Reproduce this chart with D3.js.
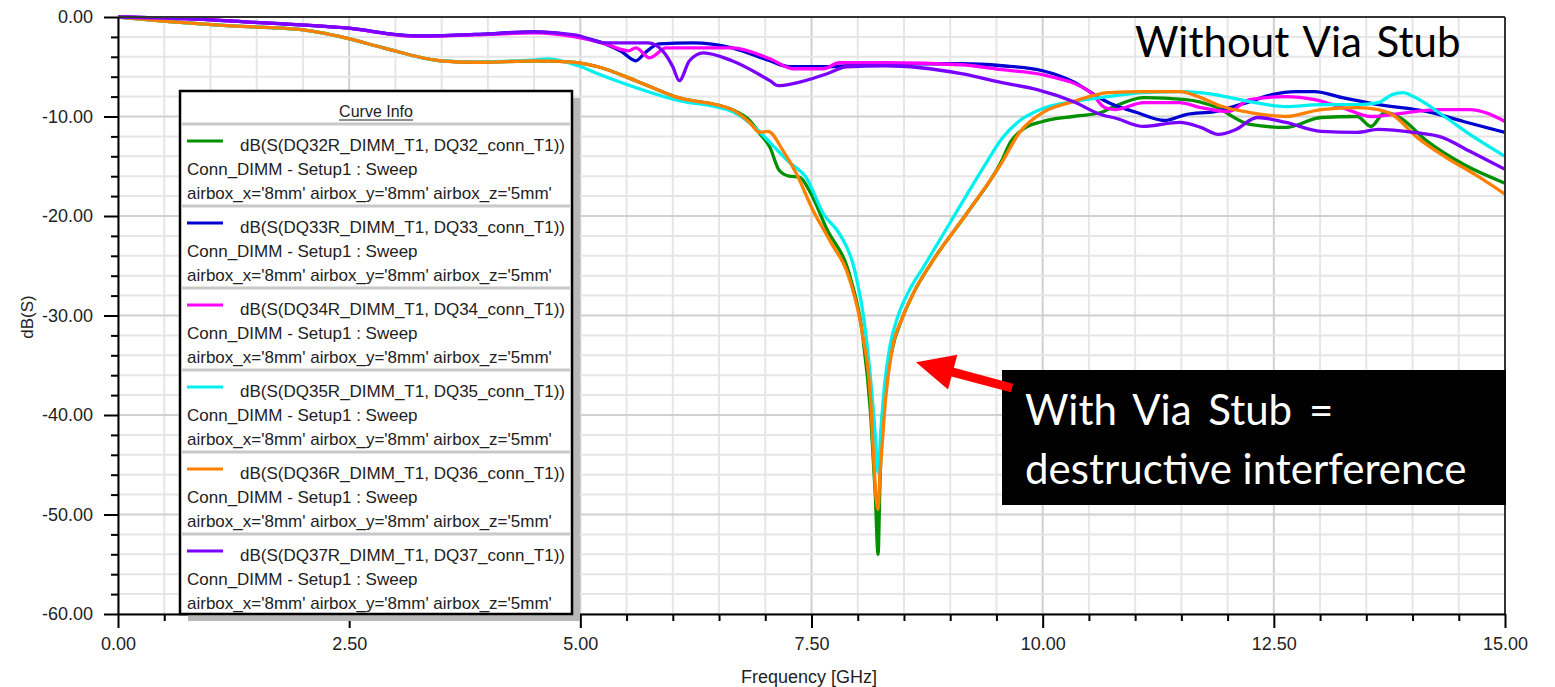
<!DOCTYPE html>
<html>
<head>
<meta charset="utf-8">
<script src="https://cdn.jsdelivr.net/npm/d3@7"></script>
<style>
  body { margin: 0; background: #fff; }
  svg { display: block; }
  .axis text, .legend text { font-family: "Liberation Sans", Arial, sans-serif; }
</style>
</head>
<body>
<svg id="chart" width="1555" height="687"></svg>
<script>
// Tick values for the two axes
const xTickValues = [0, 2.5, 5, 7.5, 10, 12.5, 15];
const yTickValues = [0, -10, -20, -30, -40, -50, -60];

// Insertion loss traces: [frequency GHz, dB]
const dq32 = [[0,0],[0.31,-0.26],[1.22,-0.9],[1.96,-1.25],[2.46,-2.1],[2.87,-3.1],[3.49,-4.4],[3.9,-4.55],[4.52,-4.4],[4.94,-4.55],[5.19,-5.0],[5.6,-6.4],[6.02,-8.0],[6.64,-9.3],[6.83,-10.4],[6.94,-11.7],[7.05,-13.1],[7.15,-15.4],[7.26,-16.0],[7.37,-16.1],[7.48,-17.5],[7.66,-21.2],[7.92,-26.2],[8.05,-31.8],[8.14,-40],[8.19,-48],[8.22,-54],[8.24,-47],[8.28,-39],[8.37,-33.5],[8.48,-30.3],[8.6,-27.8],[8.79,-24.8],[9.19,-19.6],[9.56,-14.4],[9.65,-12.6],[9.8,-11.2],[10.0,-10.5],[10.33,-10.0],[10.63,-9.6],[10.75,-9.1],[11.09,-8.1],[11.55,-8.3],[11.86,-9.0],[12.24,-10.8],[12.63,-11.1],[13.01,-10.1],[13.4,-10.0],[13.55,-11.0],[13.7,-9.6],[13.86,-10.1],[14.16,-12.5],[14.55,-14.8],[15,-16.7]];
const dq33 = [[0,0],[0.72,-0.17],[1.59,-0.6],[2.46,-1.1],[3.24,-1.9],[3.86,-1.75],[4.5,-1.5],[4.94,-1.9],[5.27,-2.7],[5.45,-3.5],[5.6,-4.4],[5.7,-3.6],[5.85,-2.7],[6.22,-2.6],[6.64,-3.1],[7.05,-4.4],[7.26,-5.0],[7.67,-5.0],[7.88,-4.9],[8.3,-4.7],[9.12,-4.7],[9.56,-4.9],[10.0,-5.4],[10.33,-6.5],[10.56,-7.8],[10.71,-8.6],[11.02,-9.6],[11.32,-10.4],[11.55,-9.8],[11.86,-9.5],[12.24,-8.5],[12.48,-7.8],[12.74,-7.5],[12.94,-7.5],[13.24,-8.1],[13.63,-8.8],[14.16,-9.5],[14.55,-10.5],[15,-11.6]];
const dq34 = [[0,0],[0.72,-0.17],[1.59,-0.6],[2.46,-1.1],[3.24,-1.95],[3.86,-1.8],[4.5,-1.6],[4.94,-2.0],[5.27,-2.7],[5.52,-3.4],[5.6,-3.1],[5.75,-4.1],[5.93,-3.1],[6.64,-3.1],[7.05,-4.2],[7.3,-5.2],[7.63,-5.2],[7.8,-4.6],[8.3,-4.6],[9.12,-4.8],[9.56,-5.3],[10.0,-5.8],[10.52,-7.6],[10.67,-9.1],[10.79,-9.3],[11.09,-8.6],[11.48,-8.6],[11.71,-9.1],[12.01,-9.5],[12.24,-8.3],[12.63,-8.0],[12.94,-8.3],[13.24,-9.1],[13.55,-10.0],[13.78,-9.8],[14.28,-9.3],[14.62,-9.3],[15,-10.5]];
const dq35 = [[0,0],[0.31,-0.26],[1.22,-0.9],[1.96,-1.25],[2.46,-2.1],[2.87,-3.1],[3.49,-4.4],[3.9,-4.5],[4.52,-4.3],[4.65,-4.2],[4.98,-4.9],[5.19,-5.7],[5.39,-6.4],[6.02,-8.3],[6.64,-9.5],[6.9,-11.2],[7.05,-12.6],[7.26,-14.6],[7.44,-16.1],[7.63,-19.8],[7.81,-21.9],[7.96,-25.2],[8.08,-31.3],[8.15,-37.5],[8.19,-42],[8.22,-45.8],[8.25,-41.5],[8.29,-37],[8.35,-33],[8.43,-30.2],[8.55,-27.6],[8.72,-25.0],[9.01,-20.5],[9.38,-14.8],[9.56,-12.2],[9.74,-10.5],[10.0,-9.2],[10.33,-8.5],[10.71,-8.0],[11.09,-7.6],[11.53,-7.5],[11.86,-7.8],[12.24,-8.5],[12.63,-9.0],[13.01,-8.8],[13.4,-8.8],[13.63,-8.6],[13.78,-7.8],[13.9,-7.6],[14.01,-8.0],[14.36,-10.1],[14.62,-11.8],[15,-14.0]];
const dq36 = [[0,0],[0.31,-0.26],[1.22,-0.9],[1.96,-1.25],[2.46,-2.1],[2.87,-3.1],[3.49,-4.4],[3.9,-4.55],[4.52,-4.4],[4.94,-4.55],[5.19,-5.0],[5.6,-6.4],[6.02,-8.0],[6.64,-9.3],[6.83,-10.6],[6.94,-11.6],[7.03,-11.5],[7.19,-13.4],[7.34,-15.8],[7.52,-19.5],[7.7,-22.5],[7.92,-26.6],[8.05,-31.8],[8.14,-38.5],[8.17,-44],[8.2,-48.5],[8.22,-49.5],[8.24,-46],[8.26,-43.5],[8.3,-38.5],[8.37,-33.5],[8.48,-30.3],[8.6,-27.8],[8.79,-24.8],[9.19,-19.6],[9.56,-14.6],[9.75,-11.6],[10.0,-9.6],[10.33,-8.5],[10.71,-7.6],[11.09,-7.5],[11.48,-7.5],[11.71,-8.1],[11.94,-9.0],[12.24,-9.6],[12.63,-10.0],[13.01,-9.3],[13.4,-9.1],[13.63,-9.3],[13.78,-9.8],[14.05,-12.1],[14.36,-14.1],[14.67,-15.8],[15,-17.8]];
const dq37 = [[0,0],[0.72,-0.17],[1.59,-0.6],[2.46,-1.1],[3.24,-1.9],[3.86,-1.75],[4.5,-1.5],[4.94,-1.8],[5.27,-2.6],[5.73,-2.6],[5.89,-3.4],[6.0,-5.0],[6.07,-6.4],[6.18,-4.4],[6.33,-3.6],[6.64,-4.4],[7.05,-6.4],[7.14,-6.9],[7.3,-6.7],[7.67,-5.7],[7.88,-5.0],[8.3,-4.9],[9.12,-5.7],[9.56,-6.6],[9.94,-7.3],[10.33,-8.5],[10.63,-9.8],[10.8,-10.2],[11.09,-11.0],[11.48,-10.6],[11.71,-11.1],[11.9,-11.8],[12.09,-11.3],[12.32,-10.1],[12.63,-10.6],[13.01,-11.5],[13.4,-11.6],[13.63,-11.3],[14.01,-11.6],[14.32,-12.1],[14.62,-13.5],[15,-15.3]];

const traceNames = [
  "dB(S(DQ32R_DIMM_T1, DQ32_conn_T1))",
  "dB(S(DQ33R_DIMM_T1, DQ33_conn_T1))",
  "dB(S(DQ34R_DIMM_T1, DQ34_conn_T1))",
  "dB(S(DQ35R_DIMM_T1, DQ35_conn_T1))",
  "dB(S(DQ36R_DIMM_T1, DQ36_conn_T1))",
  "dB(S(DQ37R_DIMM_T1, DQ37_conn_T1))"
];
const traceSetup = "Conn_DIMM - Setup1 : Sweep";
const traceParams = "airbox_x='8mm' airbox_y='8mm' airbox_z='5mm'";
const traceData = [dq32, dq33, dq34, dq35, dq36, dq37];
const traceColors = ["#009000", "#0000d0", "#ff00ff", "#00f0f0", "#ff8000", "#7a00ff"];

const svg = d3.select("#chart");
const W = 1555, H = 687;
const plot = { left: 118, right: 1505, top: 17, bottom: 614 };

const x = d3.scaleLinear().domain([0, 15]).range([plot.left, plot.right]);
const y = d3.scaleLinear().domain([-60, 0]).range([plot.bottom, plot.top]);

svg.append("rect").attr("width", W).attr("height", H).attr("fill", "#fff");

// Grid: minor every 0.5 GHz / 2 dB, major at labelled ticks
const isMajorX = d => Math.abs(d / 2.5 - Math.round(d / 2.5)) < 1e-6;
const grid = svg.append("g");
const xMinor = d3.range(0, 15.001, 0.5);
const yMinor = d3.range(-60, 0.001, 2);
grid.selectAll("line.vx").data(xMinor).join("line")
  .attr("x1", d => x(d)).attr("x2", d => x(d))
  .attr("y1", plot.top).attr("y2", plot.bottom)
  .attr("stroke", d => isMajorX(d) ? "#d0d0d0" : "#e6e6e6")
  .attr("stroke-width", 2);
grid.selectAll("line.hy").data(yMinor).join("line")
  .attr("y1", d => y(d)).attr("y2", d => y(d))
  .attr("x1", plot.left).attr("x2", plot.right)
  .attr("stroke", d => d % 10 === 0 ? "#d0d0d0" : "#e6e6e6")
  .attr("stroke-width", 2);

// Traces
svg.append("clipPath").attr("id", "clip").append("rect")
  .attr("x", plot.left).attr("y", plot.top - 2)
  .attr("width", plot.right - plot.left).attr("height", plot.bottom - plot.top + 2);

const line = d3.line().x(d => x(d[0])).y(d => y(d[1])).curve(d3.curveMonotoneX);
const traces = svg.append("g").attr("clip-path", "url(#clip)");
traceData.forEach((data, i) => {
  traces.append("path")
    .datum(data)
    .attr("d", line)
    .attr("fill", "none")
    .attr("stroke", traceColors[i])
    .attr("stroke-width", 3.3)
    .attr("stroke-linejoin", "round");
});

// Frame top/right
svg.append("line").attr("x1", plot.left).attr("x2", plot.right).attr("y1", plot.top).attr("y2", plot.top)
  .attr("stroke", "#333").attr("stroke-width", 2);
svg.append("line").attr("x1", plot.right).attr("x2", plot.right).attr("y1", plot.top).attr("y2", plot.bottom)
  .attr("stroke", "#333").attr("stroke-width", 2);

// Axes
const fmt = d => d.toFixed(2);
svg.append("g").attr("class", "axis").attr("transform", `translate(${plot.left},0)`)
  .call(d3.axisLeft(y).tickValues(yTickValues).tickFormat(fmt).tickSize(14).tickPadding(11).tickSizeOuter(0));
svg.append("g").attr("transform", `translate(${plot.left},0)`)
  .call(d3.axisLeft(y).tickValues(yMinor.filter(d => d % 10 !== 0)).tickFormat("").tickSize(7).tickSizeOuter(0))
  .call(g => g.select(".domain").remove());
svg.append("g").attr("class", "axis").attr("transform", `translate(0,${plot.bottom})`)
  .call(d3.axisBottom(x).tickValues(xTickValues).tickFormat(fmt).tickSize(14).tickPadding(9).tickSizeOuter(0));
svg.append("g").attr("transform", `translate(0,${plot.bottom})`)
  .call(d3.axisBottom(x).tickValues(xMinor.filter(d => !isMajorX(d))).tickFormat("").tickSize(7).tickSizeOuter(0))
  .call(g => g.select(".domain").remove());

svg.selectAll(".axis .domain").attr("stroke", "#000").attr("stroke-width", 2);
svg.selectAll(".tick line").attr("stroke", "#000").attr("stroke-width", 2);
svg.selectAll(".axis text").attr("font-size", 18).attr("fill", "#222");

// Axis titles
svg.append("text").attr("x", 809).attr("y", 683)
  .attr("text-anchor", "middle").attr("font-family", "Liberation Sans, Arial, sans-serif")
  .attr("font-size", 18).attr("fill", "#222").text("Frequency [GHz]");
svg.append("text").attr("transform", "translate(33,317) rotate(-90)")
  .attr("text-anchor", "middle").attr("font-family", "Liberation Sans, Arial, sans-serif")
  .attr("font-size", 17).attr("fill", "#222").text("dB(S)");

// Legend panel
const lg = svg.append("g").attr("class", "legend");
const lgBox = { x: 180, y: 91, w: 392, h: 523 };
lg.append("rect").attr("x", lgBox.x + 8).attr("y", lgBox.y + 7).attr("width", lgBox.w).attr("height", lgBox.h)
  .attr("fill", "#b8b8b8");
lg.append("rect").attr("x", lgBox.x).attr("y", lgBox.y).attr("width", lgBox.w).attr("height", lgBox.h)
  .attr("fill", "#fff").attr("stroke", "#000").attr("stroke-width", 2.5);
const header = lg.append("text").attr("x", lgBox.x + lgBox.w / 2).attr("y", 117)
  .attr("text-anchor", "middle").attr("font-size", 16).attr("fill", "#222").text("Curve Info");
const hb = header.node().getBBox();
lg.append("line").attr("x1", hb.x).attr("x2", hb.x + hb.width).attr("y1", 120).attr("y2", 120)
  .attr("stroke", "#222").attr("stroke-width", 1.2);

traceNames.forEach((name, i) => {
  const top = 124 + 82 * i;
  lg.append("line").attr("x1", lgBox.x + 1).attr("x2", lgBox.x + lgBox.w - 1)
    .attr("y1", top).attr("y2", top).attr("stroke", "#c8c8c8").attr("stroke-width", 3);
  lg.append("line").attr("x1", 187).attr("x2", 223).attr("y1", top + 17).attr("y2", top + 17)
    .attr("stroke", traceColors[i]).attr("stroke-width", 3);
  lg.append("text").attr("x", 240).attr("y", top + 27).attr("font-size", 17).attr("fill", "#222").text(name);
  lg.append("text").attr("x", 187).attr("y", top + 51).attr("font-size", 17).attr("fill", "#222").text(traceSetup);
  lg.append("text").attr("x", 187).attr("y", top + 75).attr("font-size", 17).attr("fill", "#222").text(traceParams);
});

// Annotations
const annoFont = "Lato, 'Open Sans', sans-serif";
svg.append("text").attr("x", 1135).attr("y", 57)
  .attr("font-family", annoFont).attr("font-size", 42).attr("word-spacing", 4).attr("fill", "#000")
  .text("Without Via Stub");

svg.append("rect").attr("x", 1002).attr("y", 370).attr("width", 504).attr("height", 135).attr("fill", "#000");
svg.append("text").attr("x", 1025).attr("y", 425)
  .attr("font-family", annoFont).attr("font-size", 42).attr("word-spacing", 6).attr("fill", "#fff")
  .text("With Via Stub =");
svg.append("text").attr("x", 1025).attr("y", 484)
  .attr("font-family", annoFont).attr("font-size", 42).attr("fill", "#fff")
  .text("destructive interference");

// Red arrow pointing at the resonance notch
const tip = [x(8.63), y(-34.7)];
const tail = [1012, 388];
const ang = Math.atan2(tip[1] - tail[1], tip[0] - tail[0]);
const headLen = 38, headHalf = 18, shaft = 4.5;
const ux = Math.cos(ang), uy = Math.sin(ang), px = -uy, py = ux;
const base = [tip[0] - ux * headLen, tip[1] - uy * headLen];
const pts = [
  [tail[0] + px * shaft, tail[1] + py * shaft],
  [base[0] + px * shaft, base[1] + py * shaft],
  [base[0] + px * headHalf, base[1] + py * headHalf],
  tip,
  [base[0] - px * headHalf, base[1] - py * headHalf],
  [base[0] - px * shaft, base[1] - py * shaft],
  [tail[0] - px * shaft, tail[1] - py * shaft]
];
svg.append("polygon").attr("points", pts.map(p => p.join(",")).join(" ")).attr("fill", "#ff0000");
</script>
</body>
</html>
